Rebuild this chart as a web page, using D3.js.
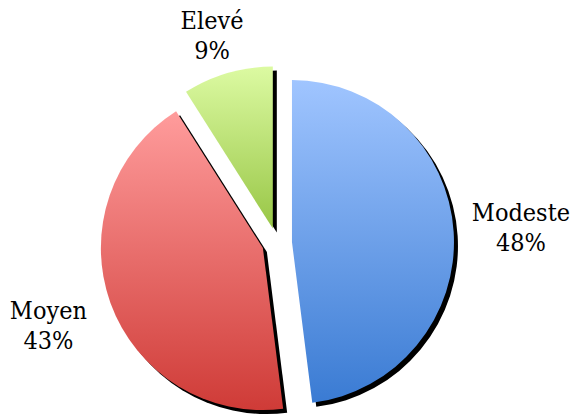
<!DOCTYPE html>
<html>
<head>
<meta charset="utf-8">
<script src="https://cdn.jsdelivr.net/npm/d3@7"></script>
<style>
  html, body { margin: 0; padding: 0; background: #fff; }
  svg { display: block; }
  .lbl { font-family: "DejaVu Serif", serif; font-stretch: condensed; font-size: 25px; fill: #000; }
</style>
</head>
<body>
<svg id="chart" width="576" height="417"></svg>
<script>
// Income level distribution
const categories = ["Modeste", "Moyen", "Elevé"];
const values = [48, 43, 9];
const percentLabels = ["48%", "43%", "9%"];
const topColors = ["#a0c5ff", "#ff9c9c", "#dcfaa2"];
const bottomColors = ["#3a7bd3", "#cf3b37", "#98c646"];

const width = 576, height = 417;
const cx = 277, cy = 243;
const radius = 162;
const explode = 15;
const shadowDx = 4, shadowDy = 4;
const labelGap = 25;
const edgeMargin = 6;

const svg = d3.select("#chart");
const defs = svg.append("defs");

categories.forEach((c, i) => {
  const g = defs.append("linearGradient")
    .attr("id", "grad" + i)
    .attr("x1", 0).attr("y1", 0).attr("x2", 0).attr("y2", 1);
  g.append("stop").attr("offset", "0%").attr("stop-color", topColors[i]);
  g.append("stop").attr("offset", "100%").attr("stop-color", bottomColors[i]);
});

const pie = d3.pie().sort(null).startAngle(0).endAngle(2 * Math.PI);
const arcs = pie(values);
const arc = d3.arc().innerRadius(0).outerRadius(radius);

const dirOf = d => {
  const a = (d.startAngle + d.endAngle) / 2;
  return [Math.sin(a), -Math.cos(a)];
};

const root = svg.append("g").attr("transform", `translate(${cx},${cy})`);

// drop shadows under the exploded slices
root.selectAll("path.shadow")
  .data(arcs)
  .join("path")
  .attr("class", "shadow")
  .attr("fill", "#000")
  .attr("d", arc)
  .attr("transform", d => {
    const [ux, uy] = dirOf(d);
    return `translate(${ux * explode + shadowDx},${uy * explode + shadowDy})`;
  });

root.selectAll("path.slice")
  .data(arcs)
  .join("path")
  .attr("class", "slice")
  .attr("fill", (d, i) => `url(#grad${i})`)
  .attr("d", arc)
  .attr("transform", d => {
    const [ux, uy] = dirOf(d);
    return `translate(${ux * explode},${uy * explode})`;
  });

// labels outside each slice, kept inside the drawing area
const lineH = 30;
arcs.forEach((d, i) => {
  const [ux, uy] = dirOf(d);
  const t = root.append("text").attr("class", "lbl").attr("text-anchor", "middle");
  t.append("tspan").attr("x", 0).attr("dy", 0).text(categories[i]);
  t.append("tspan").attr("x", 0).attr("dy", lineH).text(percentLabels[i]);
  const bb = t.node().getBBox();
  const dist = radius + explode + labelGap;
  // distance from box centre to its edge along the slice direction
  const s = Math.min(
    Math.abs(ux) > 1e-6 ? (bb.width / 2) / Math.abs(ux) : Infinity,
    Math.abs(uy) > 1e-6 ? (bb.height / 2) / Math.abs(uy) : Infinity
  );
  let px = ux * (dist + s);
  let py = uy * (dist + s);
  // clamp into the svg
  const minX = -cx + edgeMargin + bb.width / 2, maxX = width - cx - edgeMargin - bb.width / 2;
  const minY = -cy + edgeMargin + bb.height / 2, maxY = height - cy - edgeMargin - bb.height / 2;
  px = Math.max(minX, Math.min(maxX, px));
  py = Math.max(minY, Math.min(maxY, py));
  const ox = px - (bb.x + bb.width / 2);
  const oy = py - (bb.y + bb.height / 2);
  t.attr("transform", `translate(${ox},${oy})`);
});
</script>
</body>
</html>
